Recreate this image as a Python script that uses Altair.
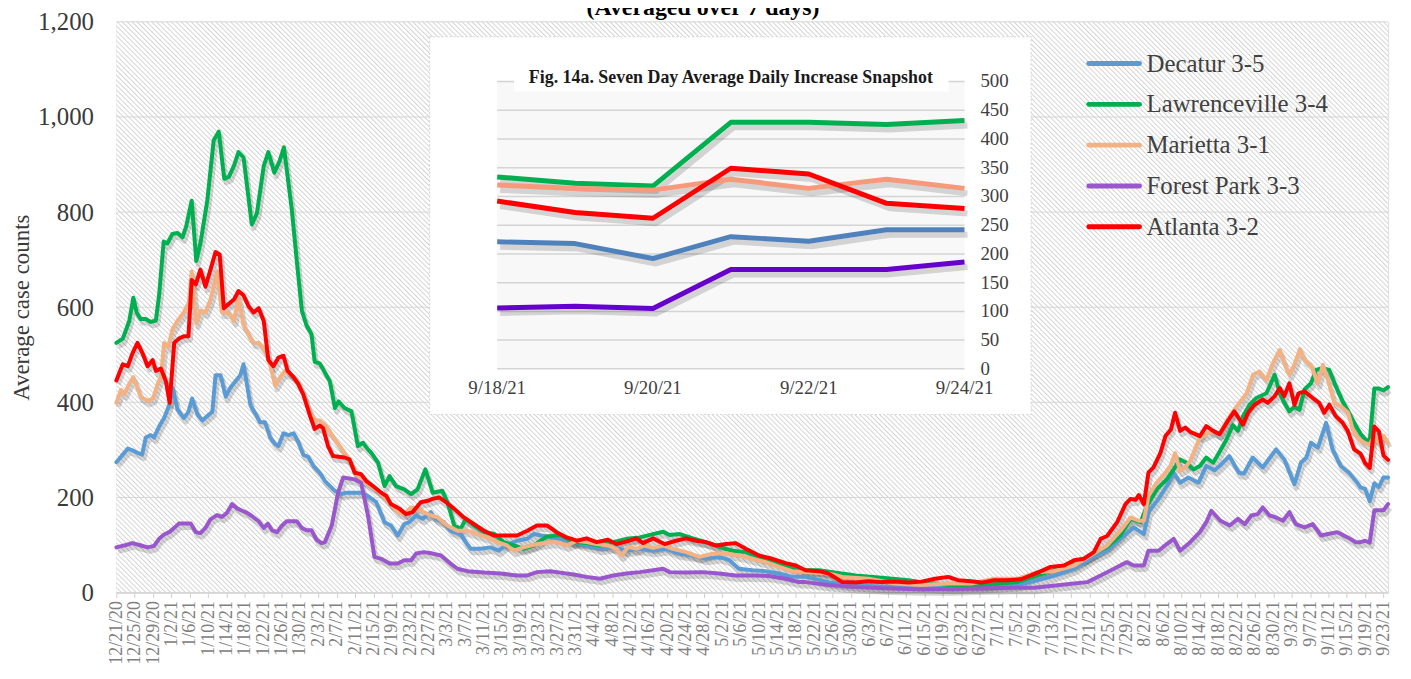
import altair as alt
import pandas as pd

SERIF = "Liberation Serif"
START = pd.Timestamp("2020-12-21")

TITLE = "(Averaged over 7 days)"
INSET_TITLE = "Fig. 14a. Seven Day Average Daily Increase Snapshot"
SERIES = ["Decatur 3-5", "Lawrenceville 3-4", "Marietta 3-1", "Forest Park 3-3", "Atlanta 3-2"]
MAIN_COLORS = ["#5b9bd5", "#00b050", "#f4b183", "#9a57cd", "#ff0000"]
INSET_COLORS = ["#4f81bd", "#00b050", "#f79a7c", "#6600cc", "#ff0000"]

# (days since 12/21/20, 7-day average)
decatur = [(0,274),(1.4,290),(2.5,303),(3.5,299),(4.6,294),(5.6,290),(6.4,326),(7.5,331),(8.2,326),(9.3,349),(10.4,367),(11.5,394),(12.3,430),(13.3,385),(14.7,367),(15.7,380),(16.5,408),(17.6,376),(18.7,362),(19.8,371),(20.9,380),(21.6,457),(22.7,457),(23.8,412),(24.8,430),(25.9,444),(27.0,457),(27.7,480),(29.2,394),(30.3,376),(31.3,358),(32.4,358),(33.5,326),(34.6,312),(35.3,308),(36.4,335),(37.5,331),(38.6,335),(39.6,317),(40.7,290),(41.8,285),(42.9,267),(44.3,252),(45.4,235),(47.6,214),(49.0,207),(50.1,210),(53.3,210),(54.8,203),(56.6,190),(58.4,148),(59.8,141),(61.3,120),(62.7,144),(63.8,148),(65.3,162),(66.7,155),(68.5,169),(69.6,155),(71.4,148),(72.8,130),(75.0,123),(76.1,106),(77.2,92),(79.3,92),(81.5,95),(83.3,88),(84.7,99),(87.3,109),(89.5,113),(90.9,123),(93.8,118),(96.7,113),(99.6,106),(102.4,99),(105.3,92),(108.2,96),(111.1,88),(114.0,92),(116.9,88),(119.8,92),(122.7,82),(125.6,78),(128.4,71),(131.3,75),(133.5,68),(135.6,50),(138.5,47),(141.4,45),(144.3,40),(147.2,33),(150.1,33),(155.2,22),(160.3,16),(167.4,12),(174.6,12),(181.8,10),(189.0,12),(196.3,16),(199.9,24),(203.5,33),(208.6,50),(212.9,75),(215.8,88),(218.7,113),(221.6,137),(223.8,123),(224.8,169),(227.0,197),(228.8,224),(230.3,252),(231.7,231),(233.5,242),(235.7,231),(237.4,266),(239.2,257),(240.3,266),(242.4,287),(244.5,252),(245.6,250),(247.5,284),(249.7,263),(252.6,301),(254.4,280),(256.6,228),(258.0,273),(259.2,284),(260.2,315),(261.7,305),(263.5,357),(264.9,301),(266.7,266),(268.5,252),(270.3,231),(271,221),(272,218),(273,192),(274,230),(275,222),(276,242),(277,242)]

lawrenceville = [(0,525),(1.4,534),(2.8,571),(3.7,620),(4.4,589),(5.3,575),(6.4,575),(7.5,569),(8.6,572),(9.3,625),(10.3,738),(11.1,734),(12.2,754),(13.3,756),(14.4,747),(15.2,770),(16.4,824),(17.4,697),(18.3,734),(19.8,824),(21.2,951),(22.3,969),(23.5,870),(24.5,874),(25.6,897),(26.6,926),(27.7,915),(29.5,774),(30.6,797),(32.1,897),(33.1,926),(34.4,883),(35.5,906),(36.5,936),(38.2,806),(39.3,697),(40.4,593),(41.4,562),(42.5,543),(43.2,485),(44.3,482),(46.5,444),(47.6,388),(48.4,402),(49.7,388),(51.2,381),(52.6,308),(53.7,315),(54.8,301),(55.5,294),(57.0,273),(58.4,224),(59.5,245),(60.9,224),(62.7,217),(64.2,207),(65.6,217),(67.3,259),(68.9,210),(71.0,214),(72.1,190),(73.6,141),(75.0,134),(76.1,155),(77.9,141),(80.1,127),(82.2,124),(84.4,106),(86.6,99),(88.7,92),(90.9,99),(93.8,118),(96.7,121),(99.6,106),(102.4,104),(105.3,99),(108.2,106),(111.1,113),(114.0,116),(116.9,123),(119.1,128),(120.5,121),(122.7,123),(125.6,114),(128.4,106),(131.3,96),(134.2,88),(137.1,85),(140.0,75),(142.9,68),(145.8,57),(148.7,47),(153.0,47),(161.0,36),(166.7,31),(172.5,26),(175.4,22),(181.2,16),(189.0,16),(196.3,22),(200.6,36),(204.2,47),(208.6,61),(212.9,82),(215.8,96),(218.7,120),(220.9,155),(223.1,148),(224.5,183),(226.6,217),(228.8,238),(230.3,259),(231.7,280),(233.1,273),(234.6,259),(236.0,266),(237.4,284),(238.9,273),(240.3,296),(241.8,322),(243.2,352),(244.3,340),(245.4,371),(246.8,395),(248.3,409),(250.5,419),(252.3,458),(253.4,419),(254.4,399),(255.5,381),(256.6,391),(257.7,384),(258.8,427),(260.2,440),(261.3,468),(262.7,472),(264.2,468),(265.6,434),(267.1,402),(268.5,378),(270.0,350),(271,334),(272,323),(273,318),(274,429),(275,429),(276,425),(277,432)]

marietta = [(0,399),(1.0,426),(1.7,417),(2.8,439),(3.7,453),(4.4,435),(5.3,412),(6.8,403),(8.0,408),(9.0,439),(9.7,453),(10.4,525),(11.3,516),(12.2,553),(13.3,571),(14.7,589),(15.8,610),(16.4,675),(17.4,566),(18.3,593),(19.4,589),(20.5,616),(21.9,675),(23.0,589),(24.5,589),(25.6,571),(26.6,620),(27.7,562),(28.8,543),(29.9,525),(31.0,525),(32.1,512),(33.1,494),(34.6,435),(35.7,453),(36.7,466),(38.2,457),(39.3,448),(40.4,426),(41.8,389),(43.2,362),(44.3,362),(45.7,350),(47.6,322),(49.7,294),(51.2,270),(52.6,245),(54.8,228),(57.0,214),(59.1,193),(61.3,169),(62.7,165),(64.2,179),(65.6,176),(67.8,165),(70.0,158),(72.1,141),(74.3,130),(76.5,130),(78.6,123),(80.8,116),(83.0,106),(85.1,99),(86.6,88),(88.7,95),(91.6,102),(94.5,106),(95.9,106),(98.1,99),(100.3,109),(102.4,106),(104.6,102),(107.1,99),(108.9,92),(110.0,78),(111.5,96),(113.3,92),(115.0,99),(116.9,94),(119.1,99),(121.2,92),(124.1,85),(127.0,75),(129.9,82),(132.8,82),(135.6,78),(138.5,71),(141.4,64),(144.3,54),(147.2,45),(150.1,43),(155.2,40),(158.1,33),(163.8,29),(169.6,19),(175.4,16),(181.2,19),(186.2,19),(191.2,29),(196.3,29),(200.6,43),(204.2,45),(208.6,57),(212.9,82),(215.8,99),(218.7,130),(220.9,158),(222.7,151),(223.8,151),(224.8,203),(226.6,231),(228.5,252),(229.6,266),(230.6,293),(231.7,256),(232.8,263),(233.9,277),(236.0,326),(237.4,333),(238.9,340),(240.3,333),(241.8,360),(244.0,391),(246.2,419),(247.6,458),(249.0,465),(250.5,447),(251.9,482),(253.4,510),(254.4,482),(255.5,458),(256.6,479),(257.8,512),(258.8,489),(260.2,479),(261.7,440),(262.8,479),(263.9,447),(265.3,399),(266.8,391),(268.3,378),(269.3,343),(270.4,325),(271,320),(272,314),(273,311),(274,330),(275,314),(276,330),(277,314)]

forest_park = [(0,95),(2.1,100),(3.5,104),(5.0,100),(6.8,95),(8.2,98),(9.3,113),(10.4,122),(11.5,127),(12.6,136),(13.6,145),(15.1,145),(16.2,145),(17.3,127),(18.3,125),(19.4,136),(20.5,154),(21.9,163),(23.0,159),(24.1,168),(25.2,186),(26.3,177),(27.4,172),(28.4,168),(29.5,161),(31.0,150),(32.1,136),(33.0,145),(33.9,131),(35.0,127),(36.0,140),(37.1,150),(38.2,150),(39.3,150),(40.4,136),(41.4,131),(42.5,131),(43.6,111),(44.7,104),(45.4,106),(46.9,141),(48.3,210),(49.4,242),(51.9,238),(53.3,231),(54.8,162),(56.2,75),(57.7,71),(59.5,61),(61.3,61),(62.7,68),(64.2,68),(65.3,82),(67.0,85),(68.9,82),(70.7,78),(72.8,61),(74.3,50),(76.5,45),(80.1,42),(83.7,40),(87.3,36),(89.5,36),(91.6,43),(94.5,45),(96.7,42),(99.6,38),(102.4,33),(105.3,29),(108.2,36),(111.1,40),(114.0,43),(116.9,47),(119.1,50),(120.5,43),(124.1,42),(127.7,43),(131.3,40),(134.9,36),(138.5,36),(142.1,35),(145.8,29),(148.7,22),(150.1,22),(155.2,16),(160.3,12),(167.4,9),(174.6,7),(181.8,7),(189.0,9),(196.3,10),(199.9,10),(203.5,14),(208.6,19),(211.5,22),(214.4,36),(217.3,50),(220.1,64),(221.6,57),(223.8,57),(224.8,88),(227.0,88),(228.8,102),(230.3,113),(231.7,88),(233.9,106),(236.0,127),(237.4,148),(238.5,172),(240.5,151),(242.5,141),(244.3,155),(245.8,144),(247.2,162),(248.6,165),(249.7,179),(251.2,162),(252.6,158),(254.1,151),(255.5,169),(256.9,144),(258.8,137),(260.6,144),(262.4,120),(263.9,123),(266.0,127),(268.2,116),(270.0,106),(271,106),(272,109),(273,105),(274,173),(275,173),(276,173),(277,186)]

atlanta = [(0,446),(1.4,480),(2.5,476),(3.5,503),(4.6,525),(5.7,503),(6.8,476),(7.9,489),(8.6,466),(9.7,471),(10.8,444),(11.6,399),(12.6,525),(13.6,534),(14.7,539),(15.7,539),(16.4,657),(17.3,648),(18.3,679),(19.4,643),(20.5,679),(21.6,716),(22.5,711),(23.4,598),(24.5,607),(25.6,616),(26.6,634),(27.7,625),(28.8,602),(29.9,589),(31.0,598),(32.1,571),(33.1,489),(34.2,476),(35.3,494),(36.4,498),(37.3,466),(38.6,453),(39.6,439),(40.7,417),(42.2,371),(43.2,344),(44.3,351),(45.0,346),(46.1,308),(47.2,287),(49.7,284),(50.8,280),(51.9,252),(53.3,249),(54.4,235),(55.9,224),(57.7,210),(58.8,203),(59.8,186),(61.7,176),(63.1,165),(64.5,169),(66.3,190),(67.8,193),(68.9,197),(70.3,200),(71.8,190),(73.6,176),(75.7,158),(77.9,144),(80.1,130),(82.2,120),(84.4,120),(87.3,120),(89.5,130),(91.6,141),(93.8,141),(95.9,127),(98.1,116),(100.3,109),(102.4,114),(104.6,106),(107.1,111),(108.9,102),(111.1,107),(113.3,114),(114.7,104),(116.9,114),(119.4,102),(121.9,109),(124.1,114),(126.3,109),(128.4,106),(130.6,99),(132.8,102),(134.9,104),(137.1,92),(140.0,78),(142.9,71),(145.8,62),(148.0,57),(150.1,47),(153.0,45),(155.2,40),(158.1,22),(161.0,21),(163.8,24),(166.7,22),(169.6,23),(172.5,21),(175.4,23),(178.3,29),(181.2,33),(183.3,26),(186.2,24),(188.4,21),(191.2,26),(194.1,26),(197.0,28),(199.2,36),(201.4,45),(203.5,54),(206.4,57),(208.6,68),(210.7,71),(212.9,85),(214.4,113),(215.8,119),(218.0,148),(219.8,186),(220.9,197),(222.0,195),(222.7,205),(223.8,186),(224.8,252),(225.9,263),(227.4,293),(228.5,329),(229.7,343),(230.6,378),(231.7,340),(232.8,347),(233.9,338),(236.0,329),(237.4,350),(238.9,340),(240.3,333),(242.1,361),(243.5,381),(245.4,353),(246.5,378),(247.9,395),(249.7,406),(250.8,399),(252.3,413),(253.4,430),(254.4,413),(255.5,440),(256.6,395),(257.5,419),(258.8,423),(260.6,409),(262.0,399),(263.1,378),(264.2,395),(265.6,371),(267.1,357),(268.2,340),(269.6,301),(271,292),(272,272),(273,262),(274,349),(275,339),(276,288),(277,279)]

# Inset snapshot
INSET_DATES = ["2021-09-18", "2021-09-19", "2021-09-20", "2021-09-21", "2021-09-22", "2021-09-23", "2021-09-24"]
inset_decatur = [221, 218, 192, 230, 222, 242, 242]
inset_lawrenceville = [334, 323, 318, 429, 429, 425, 432]
inset_marietta = [320, 314, 311, 330, 314, 330, 314]
inset_forest_park = [106, 109, 105, 173, 173, 173, 186]
inset_atlanta = [292, 272, 262, 349, 339, 288, 279]
INSET_TICKS = [0, 50, 100, 150, 200, 250, 300, 350, 400, 450, 500]
INSET_XLABEL_DATES = ["2021-09-18", "2021-09-20", "2021-09-22", "2021-09-24"]
INSET_XLABELS = ["9/18/21", "9/20/21", "9/22/21", "9/24/21"]
Y_TICKS = [0, 200, 400, 600, 800, 1000, 1200]

W, H = 1279, 574

# ---------- data frames ----------
rows = []
for name, pts in zip(SERIES, [decatur, lawrenceville, marietta, forest_park, atlanta]):
    for d, v in pts:
        rows.append({"name": name, "date": START + pd.Timedelta(days=d), "value": v})
main_df = pd.DataFrame(rows)

irows = []
for name, vals in zip(SERIES, [inset_decatur, inset_lawrenceville, inset_marietta, inset_forest_park, inset_atlanta]):
    for dt, v in zip(INSET_DATES, vals):
        irows.append({"name": name, "date": pd.Timestamp(dt), "value": v})
inset_df = pd.DataFrame(irows)

# ---------- hatched background (diagonal stripes via a linear gradient) ----------
N = 374
stops = []
for k in range(N):
    stops.append({"offset": round(k / N, 6), "color": "#d3d3d3"})
    stops.append({"offset": round((k + 0.32) / N, 6), "color": "#ffffff"})
    stops.append({"offset": round((k + 0.78) / N, 6), "color": "#ffffff"})
stops.append({"offset": 1.0, "color": "#d3d3d3"})
hatch_fill = {"gradient": "linear", "x1": 0, "y1": 1, "x2": 1.206, "y2": 0.4587, "stops": stops}

one = pd.DataFrame({"k": [0]})

# ---------- main chart ----------
tick_dates = [alt.DateTime(year=t.year, month=t.month, date=t.day)
              for t in pd.date_range("2020-12-21", "2021-09-23", freq="4D")]
x_scale = alt.Scale(domain=[alt.DateTime(year=2020, month=12, date=21),
                            alt.DateTime(year=2021, month=9, date=24)], nice=False)
x_axis = alt.Axis(values=tick_dates, format="%-m/%-d/%y", labelAngle=270, labelFontSize=18,
                  labelFont=SERIF, labelColor="#808080", labelOverlap=False, labelFlush=False,
                  labelPadding=3, domainColor="#d0d0d0", tickColor="#d0d0d0", tickSize=5,
                  grid=False, title=None)
y_scale = alt.Scale(domain=[0, 1200], nice=False)
y_axis = alt.Axis(values=Y_TICKS, format=",d", grid=False, domain=False, ticks=False,
                  labelFontSize=25, labelFont=SERIF, labelColor="#3a3a3a", labelPadding=23,
                  title="Average case counts", titleFont=SERIF, titleFontSize=23,
                  titleFontWeight="normal", titleColor="#3a3a3a", titleAngle=270,
                  titleX=-95, titleY=H / 2, titleAlign="center", titleBaseline="middle")
X = alt.X("date:T", scale=x_scale, axis=x_axis)
Y = alt.Y("value:Q", scale=y_scale, axis=y_axis)
main_color = alt.Color("name:N", scale=alt.Scale(domain=SERIES, range=MAIN_COLORS), legend=None)

hatch = alt.Chart(one).mark_rect(fill=hatch_fill).encode(
    x=alt.value(0), x2=alt.value(W), y=alt.value(0), y2=alt.value(H))
grid = alt.Chart(pd.DataFrame({"value": Y_TICKS})).mark_rule(color="#d6d6d6", strokeWidth=1).encode(y=Y)
shadow = alt.Chart(main_df).mark_line(color="#000000", opacity=0.16, strokeWidth=5,
                                      xOffset=2, yOffset=4, strokeJoin="round").encode(
    x=X, y=Y, detail="name:N")
lines = alt.Chart(main_df).mark_line(strokeWidth=4, strokeJoin="round", strokeCap="round").encode(
    x=X, y=Y, color=main_color,
    order=alt.Order("date:T"))
title = alt.Chart(pd.DataFrame({"t": [TITLE]})).mark_text(
    font=SERIF, fontSize=24, fontWeight="bold", color="#000000", align="center",
    baseline="alphabetic").encode(text="t:N", x=alt.value(590), y=alt.value(-7))

main = alt.layer(hatch, grid, shadow, lines, title)

# ---------- legend ----------
leg_df = pd.DataFrame({"name": SERIES})
leg_y = alt.Y("name:N", scale=alt.Scale(type="point", domain=SERIES, range=[42, 206], padding=0), axis=None)
leg_rule = alt.Chart(leg_df).mark_rule(strokeWidth=5, strokeCap="round").encode(
    x=alt.value(978), x2=alt.value(1029), y=leg_y, color=main_color)
leg_text = alt.Chart(leg_df).mark_text(align="left", baseline="middle", font=SERIF, fontSize=25,
                                       color="#404040").encode(
    x=alt.value(1036), y=leg_y, text="name:N")
legend = alt.layer(leg_rule, leg_text)

# ---------- inset ----------
ix_scale = alt.Scale(domain=[alt.DateTime(year=2021, month=9, date=18),
                             alt.DateTime(year=2021, month=9, date=24)], range=[383, 853], nice=False)
iy_scale = alt.Scale(domain=[0, 500], range=[349, 60], nice=False)
IX = alt.X("date:T", scale=ix_scale, axis=None)
IY = alt.Y("value:Q", scale=iy_scale, axis=None)
inset_color = alt.Color("name:N", scale=alt.Scale(domain=SERIES, range=INSET_COLORS), legend=None)

ibox = alt.Chart(one).mark_rect(fill="#ffffff", stroke="#d4d4d4", strokeDash=[2, 2], strokeWidth=1).encode(
    x=alt.value(315), x2=alt.value(920), y=alt.value(15), y2=alt.value(395))
ibg = alt.Chart(one).mark_rect(fill="#f8f8f8").encode(
    x=alt.value(383), x2=alt.value(853), y=alt.value(60), y2=alt.value(349))
igrid = alt.Chart(pd.DataFrame({"value": INSET_TICKS})).mark_rule(color="#d4d4d4", strokeWidth=1.5).encode(
    y=IY, x=alt.value(383), x2=alt.value(853))
ititle_bg = alt.Chart(one).mark_rect(fill="#ffffff").encode(
    x=alt.value(400), x2=alt.value(837), y=alt.value(45), y2=alt.value(70))
ititle = alt.Chart(pd.DataFrame({"t": [INSET_TITLE]})).mark_text(
    font=SERIF, fontSize=18, fontWeight="bold", color="#1a1a1a", align="center", baseline="middle").encode(
    text="t:N", x=alt.value(618), y=alt.value(57))
ishadow = alt.Chart(inset_df).mark_line(color="#000000", opacity=0.15, strokeWidth=6,
                                        xOffset=3, yOffset=5, strokeJoin="round").encode(
    x=IX, y=IY, detail="name:N")
ilines = alt.Chart(inset_df).mark_line(strokeWidth=5, strokeJoin="round").encode(
    x=IX, y=IY, color=inset_color)
iylab = alt.Chart(pd.DataFrame({"value": INSET_TICKS, "lab": [str(v) for v in INSET_TICKS]})).mark_text(
    font=SERIF, fontSize=19, color="#404040", align="left", baseline="middle").encode(
    y=IY, x=alt.value(869), text="lab:N")
ixlab = alt.Chart(pd.DataFrame({"date": pd.to_datetime(INSET_XLABEL_DATES), "lab": INSET_XLABELS})).mark_text(
    font=SERIF, fontSize=19, color="#404040", align="center", baseline="middle").encode(
    x=IX, y=alt.value(368), text="lab:N")
inset = alt.layer(ibox, ibg, igrid, ititle_bg, ititle, ishadow, ilines, iylab, ixlab)

chart = alt.layer(main, inset, legend).resolve_scale(
    x="independent", y="independent", color="independent"
).properties(
    width=W, height=H, autosize="none",
    padding={"left": 109, "top": 12, "right": 15, "bottom": 85},
).configure_view(stroke=None).configure(background="#ffffff")

chart.save("out.html", embed_options={"renderer": "svg", "actions": False})
